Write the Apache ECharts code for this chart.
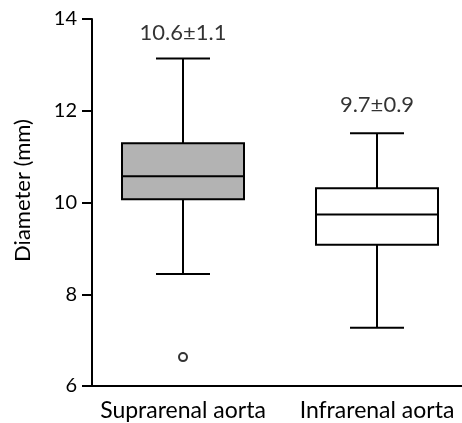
<!DOCTYPE html>
<html>
<head>
<meta charset="utf-8">
<script src="https://cdn.jsdelivr.net/npm/echarts@6/dist/echarts.min.js"></script>
<style>
html,body{margin:0;padding:0;background:#fff;}
#container{width:462px;height:423px;}
</style>
</head>
<body>
<div id="container"></div>
<script>
var categories = ['Suprarenal aorta', 'Infrarenal aorta'];
// [category index, lower whisker, Q1, median, Q3, upper whisker]
var boxValues = [
    [0, 8.44, 10.07, 10.57, 11.29, 13.14],
    [1, 7.27, 9.08, 9.74, 10.31, 11.51]
];
var boxFills = ['#b3b3b3', '#ffffff'];
var outliers = [[0, 6.63]];
var annotations = [
    [0, 13.69, '10.6±1.1'],
    [1, 12.12, '9.7±0.9']
];
var yTicks = {min: 6, max: 14, interval: 2};

var font = 'Lato, "Liberation Sans", sans-serif';
var myChart = echarts.init(document.getElementById('container'));

function renderBox(params, api){
    var i = api.value(0);
    var lo = api.coord([i, api.value(1)]);
    var q1 = api.coord([i, api.value(2)]);
    var med = api.coord([i, api.value(3)]);
    var q3 = api.coord([i, api.value(4)]);
    var hi = api.coord([i, api.value(5)]);
    var x = lo[0];
    var half = 61, cap = 27;
    var line = {stroke: '#000', lineWidth: 2};
    return {
        type: 'group',
        children: [
            {type: 'line', shape: {x1: x, y1: hi[1], x2: x, y2: q3[1]}, style: line},
            {type: 'line', shape: {x1: x, y1: q1[1], x2: x, y2: lo[1]}, style: line},
            {type: 'line', shape: {x1: x - cap, y1: hi[1], x2: x + cap, y2: hi[1]}, style: line},
            {type: 'line', shape: {x1: x - cap, y1: lo[1], x2: x + cap, y2: lo[1]}, style: line},
            {type: 'rect', shape: {x: x - half, y: q3[1], width: half * 2, height: q1[1] - q3[1]},
                style: {fill: boxFills[i], stroke: '#000', lineWidth: 2}},
            {type: 'line', shape: {x1: x - half, y1: med[1], x2: x + half, y2: med[1]}, style: line}
        ]
    };
}

var option = {
    animation: false,
    grid: [
        {left: 86, width: 388, top: 19, bottom: 37, outerBoundsMode: 'none', containLabel: false},
        {left: 92, right: 0, top: 19, bottom: 37, outerBoundsMode: 'none', containLabel: false}
    ],
    xAxis: [{
        type: 'category',
        gridIndex: 0,
        data: categories,
        axisLine: {show: false},
        axisTick: {show: false},
        axisLabel: {color: '#000', fontSize: 23, fontFamily: font, margin: 13, interval: 0, hideOverlap: false}
    }, {
        type: 'value',
        gridIndex: 1,
        axisLine: {show: true, lineStyle: {color: '#000', width: 2}},
        axisTick: {show: false},
        axisLabel: {show: false},
        splitLine: {show: false}
    }],
    yAxis: [{
        type: 'value',
        gridIndex: 0,
        min: yTicks.min,
        max: yTicks.max,
        interval: yTicks.interval,
        offset: -6,
        name: 'Diameter (mm)',
        nameLocation: 'middle',
        nameGap: 58,
        nameTextStyle: {color: '#000', fontSize: 22, fontFamily: font, padding: [0, 0, 0, 24]},
        axisLine: {show: true, lineStyle: {color: '#000', width: 2}},
        axisTick: {show: true, length: 10, lineStyle: {color: '#000', width: 2}},
        axisLabel: {color: '#000', fontSize: 20, fontFamily: font, margin: 15},
        splitLine: {show: false}
    }, {
        type: 'value',
        gridIndex: 1,
        show: false
    }],
    series: [{
        type: 'custom',
        xAxisIndex: 0,
        yAxisIndex: 0,
        renderItem: renderBox,
        data: boxValues
    }, {
        type: 'scatter',
        xAxisIndex: 0,
        yAxisIndex: 0,
        symbol: 'circle',
        symbolSize: 8,
        itemStyle: {color: '#fff', borderColor: '#000', borderWidth: 2},
        data: outliers
    }, {
        type: 'scatter',
        xAxisIndex: 0,
        yAxisIndex: 0,
        symbolSize: 0,
        label: {
            show: true,
            position: 'inside',
            color: '#000',
            fontSize: 22,
            fontFamily: font,
            formatter: function(p){ return p.data[2]; }
        },
        data: annotations
    }]
};
myChart.setOption(option);
</script>
</body>
</html>
